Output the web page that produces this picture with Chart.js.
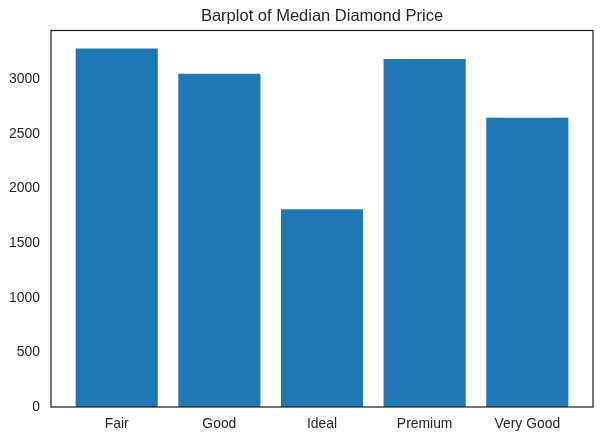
<!DOCTYPE html>
<html>
<head>
<meta charset="utf-8">
<script src="https://cdn.jsdelivr.net/npm/chart.js@4/dist/chart.umd.min.js"></script>
<style>
    html, body { margin: 0; padding: 0; background: #fff; }
    #wrap { width: 606px; height: 441px; }
</style>
</head>
<body>
<div id="wrap"><canvas id="chart"></canvas></div>
<script>
// Median price per cut
const cuts = ['Fair', 'Good', 'Ideal', 'Premium', 'Very Good'];
const medianPrice = [3282, 3050.5, 1810, 3185, 2648];
const yTicks = [0, 500, 1000, 1500, 2000, 2500, 3000];

const textColor = '#262626';
const barColor = '#1f77b4';
const fontFamily = '"Liberation Sans", Arial, sans-serif';

// draws the four spines round the plot area
const frame = {
    id: 'frame',
    afterDraw(chart) {
        const { ctx, chartArea: a } = chart;
        ctx.save();
        ctx.strokeStyle = textColor;
        ctx.lineWidth = 1.25;
        ctx.strokeRect(a.left, a.top, a.right - a.left, a.bottom - a.top);
        ctx.restore();
    }
};

new Chart(document.getElementById('chart'), {
    type: 'bar',
    data: {
        datasets: [{
            data: cuts.map((c, i) => ({ x: i, y: medianPrice[i] })),
            backgroundColor: barColor,
            borderWidth: 0,
            barPercentage: 0.8,
            categoryPercentage: 1
        }]
    },
    options: {
        responsive: true,
        maintainAspectRatio: false,
        animation: false,
        layout: { padding: { left: 0, right: 13, top: 0, bottom: 0 } },
        plugins: {
            legend: { display: false },
            tooltip: { enabled: false },
            title: {
                display: true,
                text: 'Barplot of Median Diamond Price',
                color: textColor,
                fullSize: false,
                font: { family: fontFamily, size: 16.5, weight: 'normal' },
                padding: { top: 6.4, bottom: 4.3 }
            }
        },
        scales: {
            x: {
                type: 'linear',
                min: -0.64,
                max: 4.64,
                offset: false,
                grid: { display: false, drawTicks: false, offset: false },
                border: { display: false },
                afterBuildTicks: s => { s.ticks = cuts.map((c, i) => ({ value: i })); },
                afterFit: s => { s.height = 34; },
                ticks: {
                    color: textColor,
                    font: { family: fontFamily, size: 13.9 },
                    padding: 8.6,
                    autoSkip: false,
                    maxRotation: 0,
                    callback: v => cuts[v]
                }
            },
            y: {
                min: 0,
                max: 3446,
                grid: { display: false, drawTicks: false },
                border: { display: false },
                afterBuildTicks: s => { s.ticks = yTicks.map(v => ({ value: v })); },
                afterFit: s => { s.width = 51; },
                ticks: {
                    color: textColor,
                    font: { family: fontFamily, size: 13.9 },
                    padding: 11,
                    callback: v => String(v)
                }
            }
        }
    },
    plugins: [frame]
});
</script>
</body>
</html>
